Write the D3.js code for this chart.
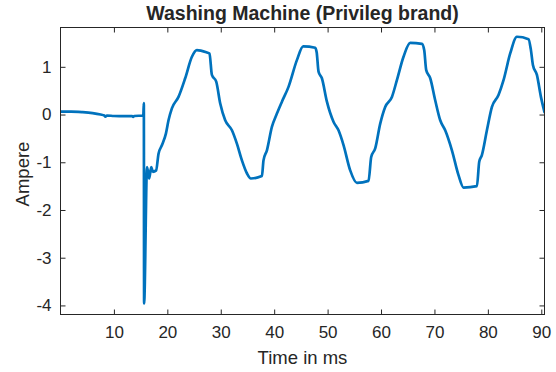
<!DOCTYPE html>
<html>
<head>
<meta charset="utf-8">
<script src="https://cdn.jsdelivr.net/npm/d3@7"></script>
<style>
  html, body { margin: 0; padding: 0; background: #fff; }
  svg { display: block; }
  text { font-family: "Liberation Sans", Arial, Helvetica, sans-serif; fill: #262626; }
</style>
</head>
<body>
<svg id="chart" width="556" height="372"></svg>
<script>
// Current trace of the washing machine (time in ms, current in A)
const timeMs = [
  0, 2, 4, 6, 7.5, 8.2, 8.4, 8.7, 10, 12, 13.4, 13.6, 13.8, 15.5,
  15.6, 15.65, 16.2, 16.6, 16.98, 17.3, 17.9, 18.35, 19.0, 19.73, 20.22, 20.85,
  22.09, 23.34, 24.6, 25.53, 27.41, 27.89, 28.34, 29.15, 29.9, 30.83, 32.09,
  33.02, 33.96, 34.89, 35.64, 37.7, 38.0, 38.64, 39.57, 40.51, 41.45, 42.68,
  44.25, 45.43, 47.68, 47.96, 48.3, 48.93, 49.87, 51.1, 52.04, 52.98, 54.23,
  55.49, 57.66, 58.16, 58.91, 59.85, 60.78, 62.04, 62.97, 64.21, 65.46, 67.65,
  68.08, 68.46, 69.21, 70.14, 71.08, 72.01, 73.27, 74.5, 75.44, 77.95, 78.38,
  78.88, 79.82, 80.76, 81.99, 82.93, 84.18, 85.44, 87.61, 88.06, 88.43, 89.18,
  89.93, 90.6
];
const currentA = [
  0.06, 0.06, 0.05, 0.03, 0.0, -0.02, -0.045, -0.02, -0.03, -0.035, -0.03, -0.05, -0.03, -0.02,
  0.24, -3.96, -1.1, -1.34, -1.1, -1.2, -1.17, -0.82, -0.64, -0.4, -0.12, 0.13,
  0.37, 0.76, 1.21, 1.35, 1.3, 1.28, 0.83, 0.69, 0.23, -0.12, -0.33,
  -0.61, -0.96, -1.23, -1.34, -1.29, -0.96, -0.75, -0.26, 0.02, 0.27, 0.58,
  1.14, 1.43, 1.4, 1.3, 0.9, 0.76, 0.27, -0.15, -0.33, -0.64, -1.17,
  -1.43, -1.39, -0.89, -0.71, -0.19, 0.16, 0.37, 0.72, 1.21, 1.5, 1.48,
  1.35, 0.93, 0.76, 0.3, -0.12, -0.33, -0.75, -1.27, -1.53, -1.5, -0.99,
  -0.85, -0.33, 0.16, 0.41, 0.72, 1.28, 1.63, 1.58, 1.35, 1.04, 0.83,
  0.37, 0.05
];
const xTicks = [10, 20, 30, 40, 50, 60, 70, 80, 90];
const yTicks = [-4, -3, -2, -1, 0, 1];

const titleText = "Washing Machine (Privileg brand)";
const xLabelText = "Time in ms";
const yLabelText = "Ampere";

const svg = d3.select("#chart");
const W = 556, H = 372;
const plot = { left: 60.5, right: 544.5, top: 27.5, bottom: 314.5 };
const axisColor = "#262626";
const tickLen = 5;

svg.append("rect").attr("width", W).attr("height", H).attr("fill", "#fff");

const x = d3.scaleLinear().domain([0, 90.6]).range([plot.left, plot.right]);
const y = d3.scaleLinear().domain([-4.19, 1.824]).range([plot.bottom, plot.top]);

const data = timeMs.map((t, i) => ({ t, v: currentA[i] }));

// trace
const clipId = "plotClip";
svg.append("clipPath").attr("id", clipId)
  .append("rect")
  .attr("x", plot.left).attr("y", plot.top - 2)
  .attr("width", plot.right - plot.left).attr("height", plot.bottom - plot.top + 4);

svg.append("path")
  .datum(data)
  .attr("clip-path", `url(#${clipId})`)
  .attr("fill", "none")
  .attr("stroke", "#0072BD")
  .attr("stroke-width", 2.7)
  .attr("stroke-linejoin", "round")
  .attr("stroke-linecap", "round")
  .attr("d", d3.line().curve(d3.curveMonotoneX).x(d => x(d.t)).y(d => y(d.v)));

// axes: bottom/left with labels, top/right mirrored ticks, all ticks pointing inward
const fontSize = 17;
const plainNum = d => String(d);
const bottomAxis = d3.axisBottom(x).tickValues(xTicks).tickSizeInner(-tickLen).tickSizeOuter(0).tickPadding(11).tickFormat(plainNum);
const topAxis = d3.axisTop(x).tickValues(xTicks).tickSizeInner(-tickLen).tickSizeOuter(0).tickFormat("");
const leftAxis = d3.axisLeft(y).tickValues(yTicks).tickSizeInner(-tickLen).tickSizeOuter(0).tickPadding(9).tickFormat(plainNum);
const rightAxis = d3.axisRight(y).tickValues(yTicks).tickSizeInner(-tickLen).tickSizeOuter(0).tickFormat("");

function styleAxis(g) {
  g.select(".domain").remove();
  g.selectAll(".tick line").attr("stroke", axisColor);
  g.selectAll(".tick text")
    .attr("fill", axisColor)
    .style("font-family", '"Liberation Sans", Arial, sans-serif')
    .style("font-size", fontSize + "px");
}

svg.append("g").attr("transform", `translate(0,${plot.bottom})`).call(bottomAxis).call(styleAxis);
svg.append("g").attr("transform", `translate(0,${plot.top})`).call(topAxis).call(styleAxis);
svg.append("g").attr("transform", `translate(${plot.left},0)`).call(leftAxis).call(styleAxis);
svg.append("g").attr("transform", `translate(${plot.right},0)`).call(rightAxis).call(styleAxis);

// box
svg.append("rect")
  .attr("x", plot.left).attr("y", plot.top)
  .attr("width", plot.right - plot.left).attr("height", plot.bottom - plot.top)
  .attr("fill", "none").attr("stroke", axisColor).attr("stroke-width", 1);

// title and labels
svg.append("text")
  .attr("x", (plot.left + plot.right) / 2).attr("y", 20)
  .attr("text-anchor", "middle")
  .style("font-weight", "bold").style("font-size", "19.5px")
  .attr("fill", "#000")
  .text(titleText);

svg.append("text")
  .attr("x", (plot.left + plot.right) / 2).attr("y", 364)
  .attr("text-anchor", "middle")
  .style("font-size", "18.5px")
  .text(xLabelText);

svg.append("text")
  .attr("transform", `translate(28.5,${(plot.top + plot.bottom) / 2 + 3}) rotate(-90)`)
  .attr("text-anchor", "middle")
  .style("font-size", "18.5px")
  .text(yLabelText);
</script>
</body>
</html>
